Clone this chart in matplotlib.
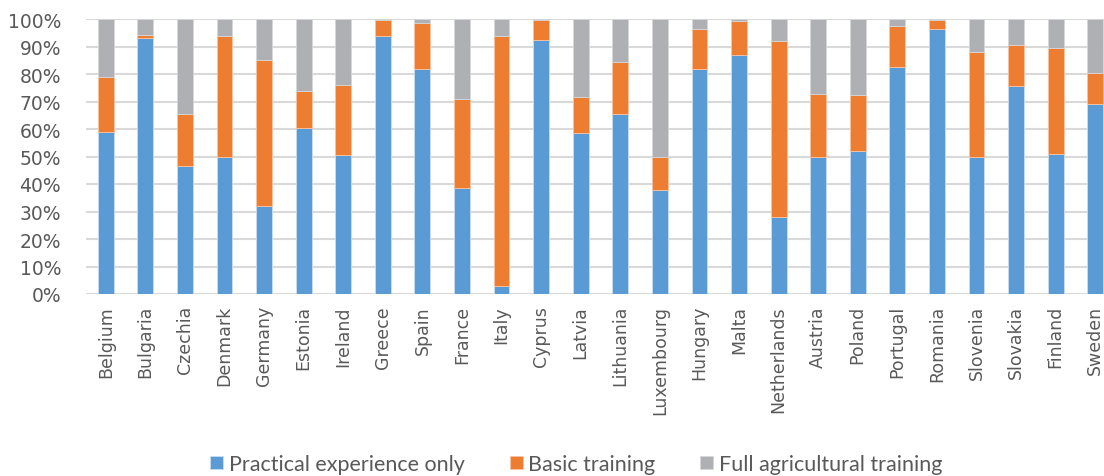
import matplotlib
matplotlib.use("Agg")
import matplotlib.pyplot as plt
import numpy as np

countries = ["Belgium", "Bulgaria", "Czechia", "Denmark", "Germany", "Estonia", "Ireland",
             "Greece", "Spain", "France", "Italy", "Cyprus", "Latvia", "Lithuania",
             "Luxembourg", "Hungary", "Malta", "Netherlands", "Austria", "Poland",
             "Portugal", "Romania", "Slovenia", "Slovakia", "Finland", "Sweden"]
practical = [59, 93, 46.5, 50, 32, 60.5, 50.5, 94, 82, 38.5, 3, 92.5, 58.5, 65.5,
             38, 82, 87, 28, 50, 52, 82.5, 96.5, 50, 75.5, 51, 69]
basic = [20, 1.3, 19, 44, 53, 13.5, 25.5, 5.5, 16.5, 32.5, 91, 7, 13, 19,
         12, 14.5, 12.3, 64, 22.7, 20.5, 15, 3, 38, 15, 38.5, 11.5]
full = [21, 5.7, 34.5, 6, 15, 26, 24, 0.5, 1.5, 29, 6, 0.5, 28.5, 15.5,
        50, 3.5, 0.7, 8, 27.3, 27.5, 2.5, 0.5, 12, 9.5, 10.5, 19.5]
series_names = ["Practical experience only", "Basic training", "Full agricultural training"]
colors = ["#5B9BD5", "#ED7D31", "#AFB0B4"]

fig = plt.figure(figsize=(11.04, 4.77), dpi=100)
# axes extends past right edge (reference is cropped)
left_px, right_px = 86, 1115
ax = fig.add_axes([left_px / 1104, (477 - 295) / 477, (right_px - left_px) / 1104, 275 / 477])

x = np.arange(len(countries))
p = np.array(practical); b = np.array(basic); f = np.array(full)
w = 0.4
bars = []
bars.append(ax.bar(x, p, w, color=colors[0], edgecolor="#C9DDF0", linewidth=0.6, zorder=3))
bars.append(ax.bar(x, b, w, bottom=p, color=colors[1], edgecolor="#F7C4A3", linewidth=0.6, zorder=3))
bars.append(ax.bar(x, f, w, bottom=p + b, color=colors[2], edgecolor="#D6D7D9", linewidth=0.6, zorder=3))

ax.set_xlim(-0.5, len(countries) - 0.5)
ax.set_ylim(0, 100)
ax.set_yticks(np.arange(0, 101, 10))
ax.set_yticklabels([f"{v}%" for v in range(0, 101, 10)], fontsize=13.5, color="#595959",
                   family="DejaVu Sans")
ax.yaxis.grid(True, color="#D9D9D9", linewidth=1.5, zorder=0)
ax.set_axisbelow(True)
for s in ax.spines.values():
    s.set_visible(False)
ax.tick_params(axis="both", length=0)
ax.tick_params(axis="y", pad=18)
ax.set_xticks(x)
ax.set_xticklabels(countries, rotation=90, fontsize=12.5, color="#595959", family="DejaVu Sans")
ax.tick_params(axis="x", pad=8)

leg = fig.legend([bb[0] for bb in bars], series_names, loc="center",
                 bbox_to_anchor=(0.522, (477 - 465) / 477),
                 ncol=3, frameon=False, prop={"family": "Lato", "size": 15.5},
                 handlelength=0.6, handleheight=0.6, columnspacing=2.1, handletextpad=0.25)
for t in leg.get_texts():
    t.set_color("#595959")

fig.savefig("out.png", dpi=100)
